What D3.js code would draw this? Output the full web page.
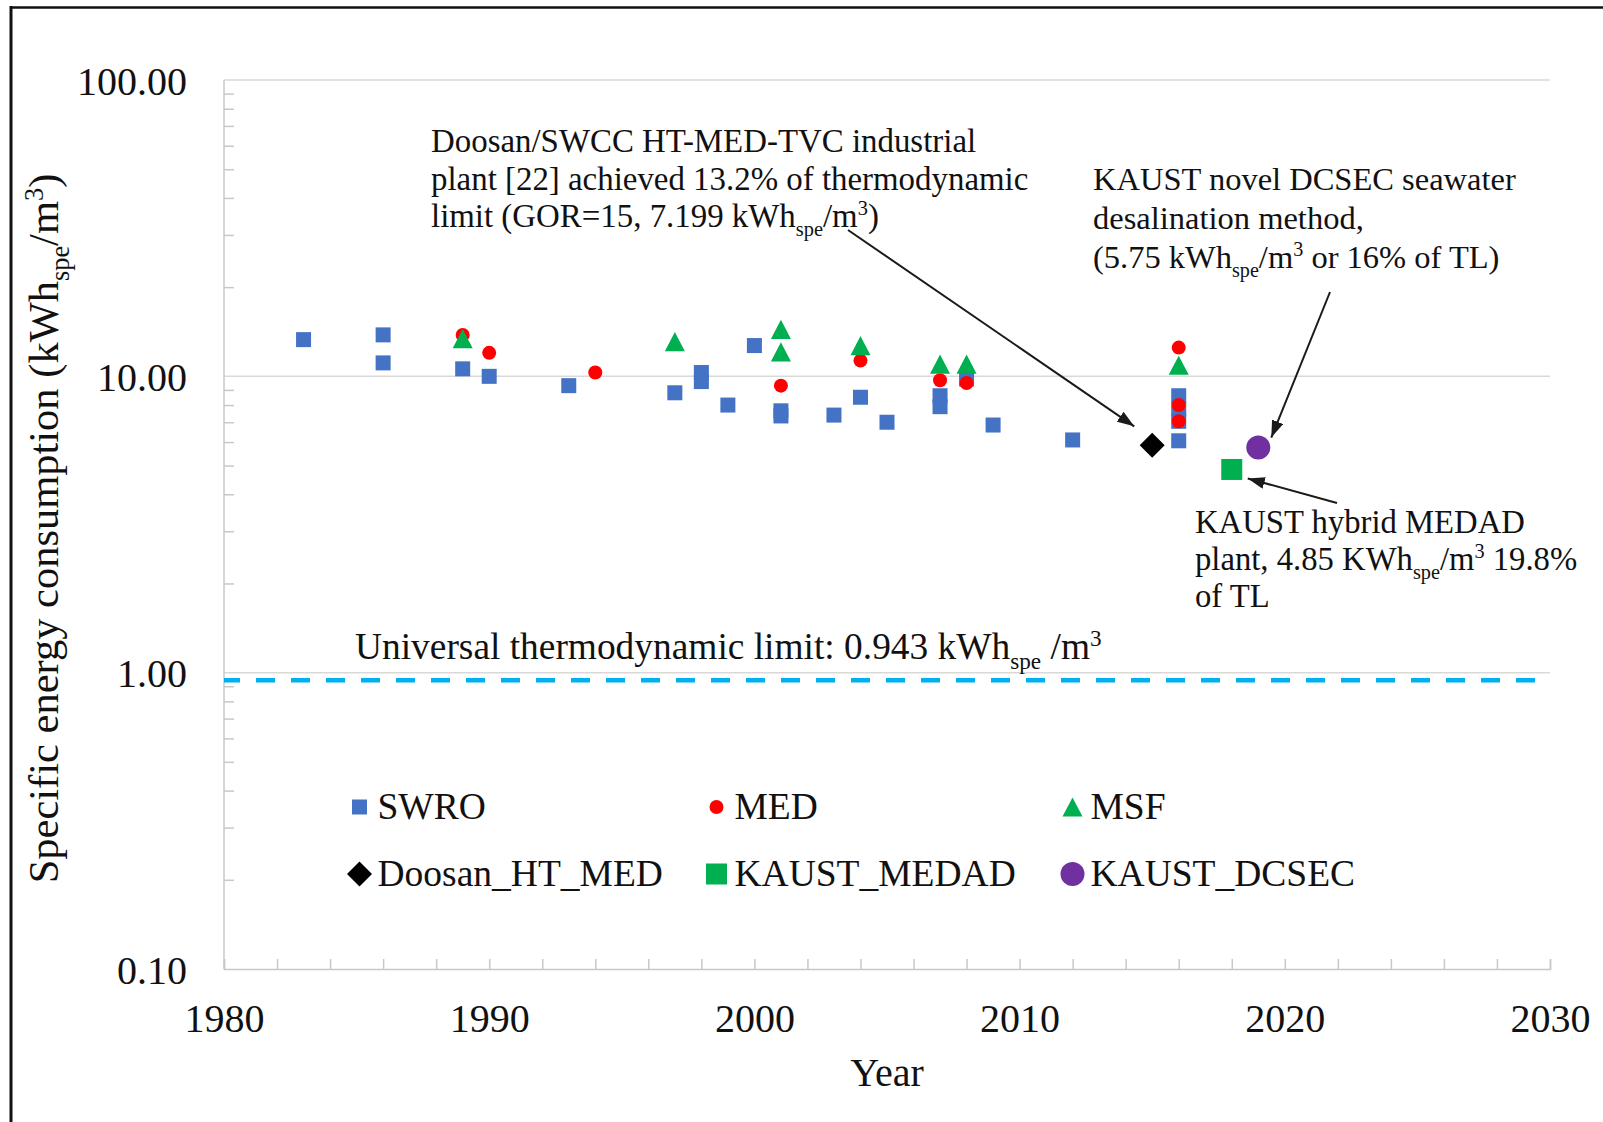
<!DOCTYPE html>
<html>
<head>
<meta charset="utf-8">
<script src="https://cdn.jsdelivr.net/npm/d3@7"></script>
<style>
  body { margin: 0; background: #fff; }
  svg text { font-family: "Liberation Serif", "Times New Roman", serif; fill: #111; }
</style>
</head>
<body>
<div id="chart"></div>
<script>
// values: [year, kWh/m3]
const swro = [[1983,13.3],[1986,13.8],[1986,11.1],[1989,10.6],[1990,10.0],[1993,9.3],[1997,8.8],
  [1998,10.3],[1998,9.6],[1999,8.0],[2000,12.7],[2001,7.65],[2001,7.35],[2003,7.4],[2004,8.5],
  [2005,7.0],[2007,8.6],[2007,7.9],[2008,9.8],[2009,6.85],[2012,6.1],[2016,8.6],[2016,7.75],
  [2016,7.05],[2016,6.06]];
const med = [[1989,13.8],[1990,12.0],[1994,10.3],[2001,9.3],[2004,11.3],[2007,9.7],[2008,9.5],
  [2016,12.5],[2016,8.0],[2016,7.05]];
const msf = [[1989,13.4],[1997,13.1],[2001,14.4],[2001,12.1],[2004,12.7],[2007,11.0],[2008,11.0],[2016,10.9]];
const doosan = [[2015,5.85]];
const kaustMedad = [[2018,4.85]];
const kaustDcsec = [[2019,5.75]];
const limitValue = 0.943;

const yearTicks = [1980,1990,2000,2010,2020,2030];
const yTicks = [0.1,1,10,100];

const W = 1603, H = 1122;
const font = 40;

let x = d3.scaleLinear().domain([1980, 2030]).range([224, 1550]);
let y = d3.scaleLog().domain([0.1, 100]).range([969, 80]);

let svg = d3.select('#chart').append('svg')
    .attr('width', W).attr('height', H);

svg.append('defs').append('marker')
    .attr('id', 'arrow')
    .attr('markerUnits', 'userSpaceOnUse')
    .attr('markerWidth', 18).attr('markerHeight', 12)
    .attr('refX', 17).attr('refY', 6)
    .attr('orient', 'auto')
  .append('path')
    .attr('d', 'M0,0 L17,6 L0,12 Z')
    .attr('fill', '#1a1a1a');

// frame (only top and left edges show in the picture)
svg.append('line').attr('x1', 11).attr('x2', 11).attr('y1', 6).attr('y2', H)
    .attr('stroke', '#111').attr('stroke-width', 3);
svg.append('line').attr('x1', 10).attr('x2', W).attr('y1', 7.5).attr('y2', 7.5)
    .attr('stroke', '#111').attr('stroke-width', 2.5);

// gridlines
svg.append('g').selectAll('line')
    .data([1, 10, 100])
    .enter().append('line')
    .attr('x1', x(1980)).attr('x2', x(2030))
    .attr('y1', d => y(d)).attr('y2', d => y(d))
    .attr('stroke', '#d9d9d9').attr('stroke-width', 1.5);

// minor y ticks (inside)
let minor = [];
[0.1, 1, 10].forEach(dec => { for (let k = 2; k < 10; k++) minor.push(dec * k); });
let yMinor = svg.append('g')
    .attr('transform', 'translate(' + x(1980) + ',0)')
    .call(d3.axisRight(y).tickValues(minor).tickSize(10).tickFormat(''));
yMinor.select('.domain').remove();
yMinor.selectAll('line').attr('stroke', '#c8c8c8').attr('stroke-width', 1.5);

// y axis line and labels
svg.append('line').attr('x1', x(1980)).attr('x2', x(1980)).attr('y1', y(100)).attr('y2', y(0.1))
    .attr('stroke', '#c8c8c8').attr('stroke-width', 1.5);
let yAxis = svg.append('g')
    .attr('transform', 'translate(' + x(1980) + ',0)')
    .call(d3.axisLeft(y).tickValues(yTicks).tickSize(0).tickPadding(37).tickFormat(d3.format('.2f')));
yAxis.select('.domain').remove();
yAxis.selectAll('text').attr('font-size', font).attr('dy', 14).attr('font-family', null);

// x axis
let xMinor = svg.append('g')
    .attr('transform', 'translate(0,' + y(0.1) + ')')
    .call(d3.axisTop(x).tickValues(d3.range(1980, 2031, 2)).tickSize(10).tickFormat(''));
xMinor.select('.domain').attr('stroke', '#c8c8c8').attr('stroke-width', 1.5);
xMinor.selectAll('line').attr('stroke', '#c8c8c8').attr('stroke-width', 1.5);

let xAxis = svg.append('g')
    .attr('transform', 'translate(0,' + y(0.1) + ')')
    .call(d3.axisBottom(x).tickValues(yearTicks).tickSize(0).tickPadding(0).tickFormat(d3.format('d')));
xAxis.select('.domain').remove();
xAxis.selectAll('text').attr('font-size', font).attr('dy', 63).attr('font-family', null);

svg.append('text')
    .attr('x', (x(1980) + x(2030)) / 2).attr('y', 1086)
    .attr('text-anchor', 'middle').attr('font-size', font)
    .text('Year');

// rich text helper: parts are [text, 'sub'|'sup'|undefined]
let rich = (sel, parts, size) => {
    let shift = 0;
    parts.forEach(p => {
        let want = p[1] === 'sub' ? 0.27 * size : p[1] === 'sup' ? -0.36 * size : 0;
        sel.append('tspan')
            .attr('dy', want - shift)
            .attr('font-size', p[1] ? size * 0.62 : size)
            .text(p[0]);
        shift = want;
    });
    return sel;
};

let yTitle = svg.append('text')
    .attr('transform', 'translate(58,' + ((y(100) + y(0.1)) / 2 + 4) + ') rotate(-90)')
    .attr('text-anchor', 'middle');
rich(yTitle, [['Specific energy consumption (kWh'], ['spe', 'sub'], ['/m'], ['3', 'sup'], [')']], 42.5);

// thermodynamic limit
svg.append('line')
    .attr('x1', x(1980)).attr('x2', x(2030))
    .attr('y1', y(limitValue)).attr('y2', y(limitValue))
    .attr('stroke', '#00B0F0').attr('stroke-width', 4.5)
    .attr('stroke-dasharray', '19,16').attr('stroke-dashoffset', 3);

rich(svg.append('text').attr('x', 355).attr('y', 659),
    [['Universal thermodynamic limit: 0.943 kWh'], ['spe', 'sub'], [' /m'], ['3', 'sup']], 37.4);

// markers
let shapes = {
    square: (g, s) => g.append('rect').attr('x', -s / 2).attr('y', -s / 2).attr('width', s).attr('height', s),
    circle: (g, s) => g.append('circle').attr('r', s / 2),
    triangle: (g, s) => g.append('path').attr('d', `M0,${-s * 0.48} L${s / 2},${s * 0.48} L${-s / 2},${s * 0.48} Z`),
    diamond: (g, s) => g.append('path').attr('d', `M0,${-s / 2} L${s / 2},0 L0,${s / 2} L${-s / 2},0 Z`)
};

let series = [
    { name: 'SWRO', data: swro, shape: 'square', size: 15, color: '#4472C4' },
    { name: 'MED', data: med, shape: 'circle', size: 14, color: '#FF0000' },
    { name: 'MSF', data: msf, shape: 'triangle', size: 20, color: '#00B050' },
    { name: 'Doosan_HT_MED', data: doosan, shape: 'diamond', size: 25, color: '#000000' },
    { name: 'KAUST_MEDAD', data: kaustMedad, shape: 'square', size: 21, color: '#00B050' },
    { name: 'KAUST_DCSEC', data: kaustDcsec, shape: 'circle', size: 24, color: '#7030A0' }
];

series.forEach(s => {
    svg.append('g').selectAll('g')
        .data(s.data)
        .enter().append('g')
        .attr('transform', d => 'translate(' + x(d[0]) + ',' + y(d[1]) + ')')
        .each(function () { shapes[s.shape](d3.select(this), s.size).attr('fill', s.color); });
});

// legend
let legCols = [359.5, 716.5, 1072.5], legRows = [807, 874];
series.forEach((s, i) => {
    let lg = svg.append('g')
        .attr('transform', 'translate(' + legCols[i % 3] + ',' + legRows[Math.floor(i / 3)] + ')');
    shapes[s.shape](lg, s.size).attr('fill', s.color);
    lg.append('text').attr('x', 18).attr('y', 12).attr('font-size', 37.5).text(s.name);
});

// annotations
let block = (x0, y0, lines, size, lh) => {
    lines.forEach((ln, i) => rich(svg.append('text').attr('x', x0).attr('y', y0 + i * lh), ln, size));
};
block(431, 152, [
    [['Doosan/SWCC HT-MED-TVC industrial']],
    [['plant [22] achieved 13.2% of thermodynamic']],
    [['limit (GOR=15, 7.199 kWh'], ['spe', 'sub'], ['/m'], ['3', 'sup'], [')']]
], 32.9, 37.5);
block(1093, 190, [
    [['KAUST novel DCSEC seawater']],
    [['desalination method,']],
    [['(5.75 kWh'], ['spe', 'sub'], ['/m'], ['3', 'sup'], [' or 16% of TL)']]
], 32.5, 39);
block(1195, 533, [
    [['KAUST hybrid MEDAD']],
    [['plant, 4.85 KWh'], ['spe', 'sub'], ['/m'], ['3', 'sup'], [' 19.8%']],
    [['of TL']]
], 32.7, 37);

// arrows to the highlighted points
let arrows = [
    { from: [848, 230], to: doosan[0], off: [-18, -19] },
    { from: [1330, 292], to: kaustDcsec[0], off: [13, -10] },
    { from: [1337, 503], to: kaustMedad[0], off: [16, 9] }
];
svg.append('g').selectAll('line')
    .data(arrows)
    .enter().append('line')
    .attr('x1', d => d.from[0]).attr('y1', d => d.from[1])
    .attr('x2', d => x(d.to[0]) + d.off[0]).attr('y2', d => y(d.to[1]) + d.off[1])
    .attr('stroke', '#1a1a1a').attr('stroke-width', 2)
    .attr('marker-end', 'url(#arrow)');
</script>
</body>
</html>
